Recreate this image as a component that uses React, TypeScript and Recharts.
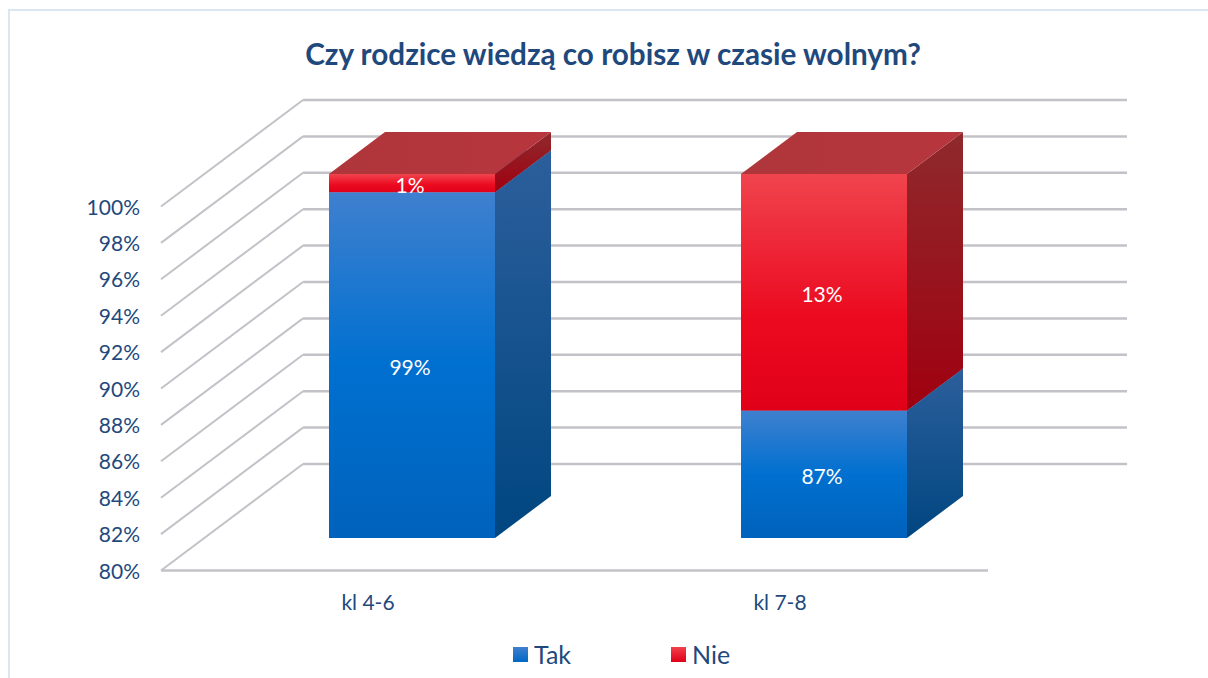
import React from 'react';
import { BarChart, Bar, XAxis, YAxis, LabelList, CartesianGrid } from 'recharts';

const categories = ['kl 4-6', 'kl 7-8'];
const takValues = [99, 87];
const nieValues = [1, 13];
const yTicks = [80, 82, 84, 86, 88, 90, 92, 94, 96, 98, 100];
const yDomain = [80, 100];
const legendItems = [
  { name: 'Tak', left: 513, textLeft: 534, fill: 'linear-gradient(#3f80cf, #0068c4)' },
  { name: 'Nie', left: 671, textLeft: 692, fill: 'linear-gradient(#f0404c, #e00018)' },
];

const data = categories.map((name, i) => ({
  name,
  Tak: takValues[i],
  Nie: nieValues[i],
}));

const NAVY = '#1f497d';
const FONT = 'Lato, Carlito, Calibri, sans-serif';
const GRID = '#c2c2c8';

// 3D depth of the columns and shift of the walls against the column plane
const DEPTH_X = 56;
const DEPTH_Y = 42;
const FRONT_SHIFT = 32.5;
const BACK_SHIFT = 74;
const WALL_LEFT = 161;
const WALL_BACK = 303;
const WALL_RIGHT = 1127;
const FLOOR_RIGHT = 988;
const PLOT_BOTTOM = 538;

// one grid line becomes side wall + back wall, the lowest one also gets the floor edge
const WallLine = (props: any) => {
  const { y1 } = props;
  const front = y1 + FRONT_SHIFT;
  const back = y1 - BACK_SHIFT;
  return (
    <g>
      <line x1={WALL_LEFT} y1={front} x2={WALL_BACK} y2={back} stroke={GRID} strokeWidth={2} />
      <line x1={WALL_BACK} y1={back} x2={WALL_RIGHT} y2={back} stroke={GRID} strokeWidth={2.5} />
      {Math.abs(y1 - PLOT_BOTTOM) < 1 && (
        <line x1={WALL_LEFT} y1={front} x2={FLOOR_RIGHT} y2={front} stroke={GRID} strokeWidth={2.5} />
      )}
    </g>
  );
};

const YTick = (props: any) => {
  const { y, payload } = props;
  return (
    <text x={140} y={y + FRONT_SHIFT + 8} textAnchor="end" fontSize={21} fontFamily={FONT} fill={NAVY}>
      {payload.value}%
    </text>
  );
};

const XTick = (props: any) => {
  const { x, payload } = props;
  return (
    <text x={x - 44} y={610} textAnchor="middle" fontSize={21} fontFamily={FONT} fill={NAVY}>
      {payload.value}
    </text>
  );
};

const Column3D = (props: any) => {
  const { x, y, width, height, tone } = props;
  const right = x + width;
  const bottom = y + height;
  const side = `${right},${y} ${right + DEPTH_X},${y - DEPTH_Y} ${right + DEPTH_X},${bottom - DEPTH_Y} ${right},${bottom}`;
  const top = `${x},${y} ${x + DEPTH_X},${y - DEPTH_Y} ${right + DEPTH_X},${y - DEPTH_Y} ${right},${y}`;
  return (
    <g>
      <polygon points={side} fill={`url(#${tone}Side)`} />
      <polygon points={top} fill={`url(#${tone}Top)`} />
      <rect x={x} y={y} width={width} height={height} fill={`url(#${tone}Front)`} />
    </g>
  );
};

const valueLabel = (key: string) => (
  <LabelList
    dataKey={key}
    position="center"
    formatter={(v: any) => `${v}%`}
    fill="#fff"
    fontSize={21}
    fontFamily={FONT}
    dx={-2}
    dy={2}
  />
);

const App = () => (
  <div
    style={{
      position: 'absolute',
      left: 0,
      top: 0,
      width: 1208,
      height: 678,
      overflow: 'hidden',
      background: '#fff',
    }}
  >
    {/* the fixed domain needs allowDataOverflow, but the 3D faces stick out of the plot box */}
    <style>{`.recharts-wrapper g[clip-path] { clip-path: none !important; }`}</style>
    <div
      style={{
        position: 'absolute',
        left: 8,
        top: 9,
        width: 1300,
        height: 800,
        border: '2px solid #dbe6f3',
      }}
    />
    <div
      style={{
        position: 'absolute',
        left: 0,
        width: 1226,
        top: 33,
        textAlign: 'center',
        fontFamily: FONT,
        fontWeight: 700,
        fontSize: 29.7,
        color: NAVY,
        lineHeight: '42px',
      }}
    >
      Czy rodzice wiedzą co robisz w czasie wolnym?
    </div>
    <BarChart
      width={1208}
      height={678}
      data={data}
      margin={{ top: 174, right: 178, bottom: 0, left: 0 }}
      barSize={166}
      style={{ position: 'absolute', left: 0, top: 0 }}
    >
      <defs>
        <linearGradient id="takFront" x1="0" y1="0" x2="0" y2="1">
          <stop offset="0" stopColor="#3f80cf" />
          <stop offset="0.5" stopColor="#0070d0" />
          <stop offset="1" stopColor="#0062bc" />
        </linearGradient>
        <linearGradient id="takSide" x1="0" y1="0" x2="0" y2="1">
          <stop offset="0" stopColor="#2c5f9c" />
          <stop offset="1" stopColor="#004680" />
        </linearGradient>
        <linearGradient id="takTop" x1="0" y1="0" x2="0" y2="1">
          <stop offset="0" stopColor="#2c5f9c" />
          <stop offset="1" stopColor="#2c5f9c" />
        </linearGradient>
        <linearGradient id="nieFront" x1="0" y1="0" x2="0" y2="1">
          <stop offset="0" stopColor="#f0444e" />
          <stop offset="0.6" stopColor="#ec0a20" />
          <stop offset="1" stopColor="#e00018" />
        </linearGradient>
        <linearGradient id="nieSide" x1="0" y1="0" x2="0" y2="1">
          <stop offset="0" stopColor="#8e2a2c" />
          <stop offset="1" stopColor="#a00010" />
        </linearGradient>
        <linearGradient id="nieTop" x1="0" y1="0" x2="1" y2="0">
          <stop offset="0" stopColor="#ae363a" />
          <stop offset="1" stopColor="#b8363e" />
        </linearGradient>
      </defs>
      <CartesianGrid vertical={false} horizontal={(p: any) => <WallLine {...p} />} syncWithTicks />
      <XAxis dataKey="name" axisLine={false} tickLine={false} tick={<XTick />} height={140} interval={0} />
      <YAxis
        domain={yDomain}
        allowDataOverflow
        ticks={yTicks}
        axisLine={false}
        tickLine={false}
        tick={<YTick />}
        width={206}
      />
      <Bar dataKey="Tak" stackId="a" isAnimationActive={false} shape={<Column3D tone="tak" />}>
        {valueLabel('Tak')}
      </Bar>
      <Bar dataKey="Nie" stackId="a" isAnimationActive={false} shape={<Column3D tone="nie" />}>
        {valueLabel('Nie')}
      </Bar>
    </BarChart>
    {legendItems.map((item) => (
      <React.Fragment key={item.name}>
        <div
          style={{
            position: 'absolute',
            left: item.left,
            top: 647,
            width: 15,
            height: 15,
            background: item.fill,
          }}
        />
        <div
          style={{
            position: 'absolute',
            left: item.textLeft,
            top: 639,
            fontFamily: FONT,
            fontSize: 25,
            lineHeight: '30px',
            color: NAVY,
          }}
        >
          {item.name}
        </div>
      </React.Fragment>
    ))}
  </div>
);

export default App;
